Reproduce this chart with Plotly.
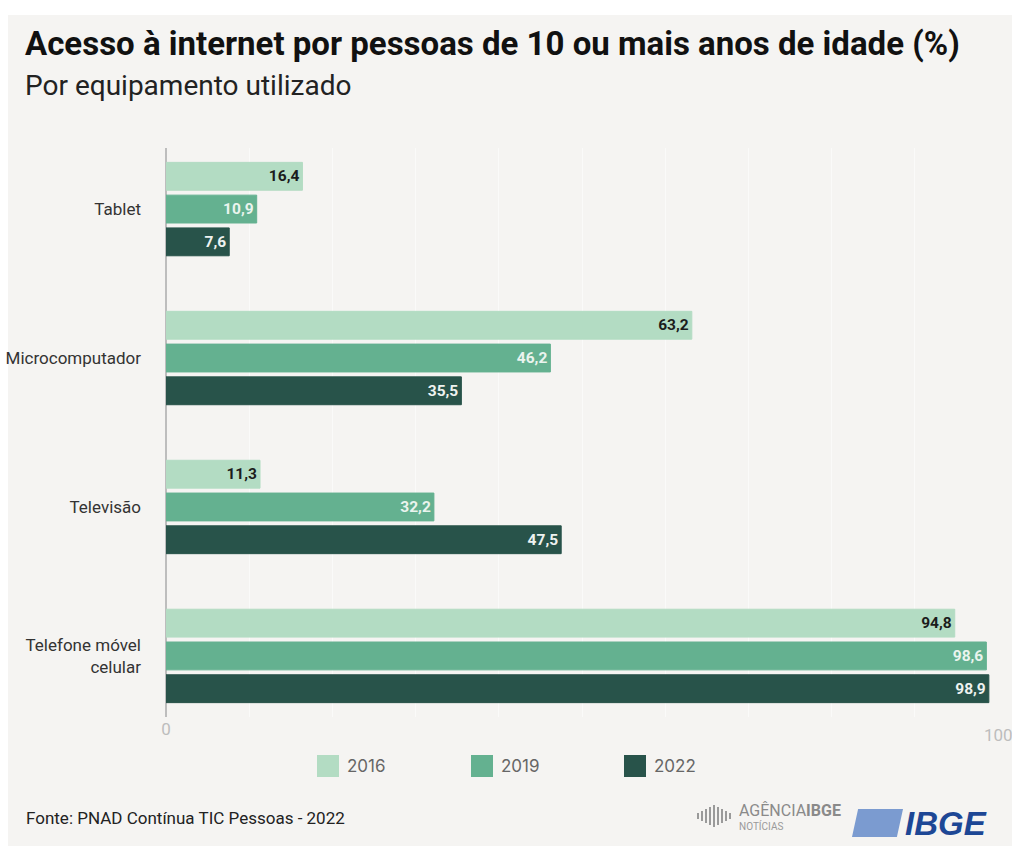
import plotly.graph_objects as go

categories = ["Tablet", "Microcomputador", "Televisão", "Telefone móvel<br>celular"]
years = ["2016", "2019", "2022"]
values_2016 = [16.4, 63.2, 11.3, 94.8]
values_2019 = [10.9, 46.2, 32.2, 98.6]
values_2022 = [7.6, 35.5, 47.5, 98.9]
series = [values_2016, values_2019, values_2022]
bar_colors = ["#b3dcc3", "#64b190", "#28534a"]
label_colors = ["#1c1c1c", "#eaf4ee", "#eef2f0"]
x_ticks = [0, 100]

W, H = 1012, 846
ML, MR, MT, MB = 166, 14, 148, 129
PW = W - ML - MR
PH = H - MT - MB


def px(x):
    return (x - ML) / PW


def py(y):
    return (H - MB - y) / PH


COND = "Roboto, Liberation Sans, sans-serif"
BG = "#f5f4f2"

fig = go.Figure()
for yr, vals, col, lc in zip(years, series, bar_colors, label_colors):
    fig.add_trace(go.Bar(
        y=categories, x=vals, name=yr, orientation="h",
        marker=dict(color=col, line=dict(color=col, width=1)),
        texttemplate="<b>%{x:.1f}</b>", textposition="inside",
        insidetextanchor="end", constraintext="none",
        textfont=dict(family=COND, size=15.5, color=lc),
        showlegend=False,
    ))

fig.update_layout(
    width=W, height=H,
    margin=dict(l=ML, r=MR, t=MT, b=MB, autoexpand=False),
    paper_bgcolor=BG, plot_bgcolor=BG,
    barmode="group", bargap=0.34, bargroupgap=0.15,
    separators=",.",
    xaxis=dict(
        range=[0, 100], tickvals=x_ticks[:1], showgrid=False, automargin=False,
        zeroline=True, zerolinecolor="#bdbdbd", zerolinewidth=2,
        tickfont=dict(family=COND, size=17, color="#bdbdbd"),
        minor=dict(dtick=10, showgrid=True, gridcolor="#fafaf9", gridwidth=1),
        fixedrange=True,
    ),
    yaxis=dict(
        range=[3.41, -0.41], showgrid=False, zeroline=False, automargin=False,
        tickfont=dict(family=COND, size=17, color="#333333"),
        ticklabelstandoff=24,
    ),
    font=dict(family=COND),
)

shapes = [
    dict(type="rect", xref="paper", yref="paper", x0=px(-5), x1=px(1020),
         y0=py(15), y1=py(-5), fillcolor="#ffffff", line=dict(width=0), layer="below"),
    dict(type="rect", xref="paper", yref="paper", x0=px(-5), x1=px(8),
         y0=py(850), y1=py(-5), fillcolor="#ffffff", line=dict(width=0), layer="below"),
]
annotations = [
    dict(text="<b>Acesso à internet por pessoas de 10 ou mais anos de idade (%)</b>",
         xref="paper", yref="paper", x=px(23), y=py(44), xanchor="left", yanchor="middle",
         showarrow=False, font=dict(family=COND, size=33, color="#111111")),
    dict(text="Por equipamento utilizado",
         xref="paper", yref="paper", x=px(23), y=py(85), xanchor="left", yanchor="middle",
         showarrow=False, font=dict(family=COND, size=28, color="#222222")),
    dict(text="Fonte: PNAD Contínua TIC Pessoas - 2022",
         xref="paper", yref="paper", x=px(24), y=py(818), xanchor="left", yanchor="middle",
         showarrow=False, font=dict(family=COND, size=17, color="#222222")),
    dict(text="AGÊNCIA<b>IBGE</b>",
         xref="paper", yref="paper", x=px(737), y=py(810), xanchor="left", yanchor="middle",
         showarrow=False, font=dict(family=COND, size=16, color="#8a8a8a")),
    dict(text="NOTÍCIAS",
         xref="paper", yref="paper", x=px(737), y=py(826), xanchor="left", yanchor="middle",
         showarrow=False, font=dict(family=COND, size=10, color="#9a9a9a")),
    dict(text="<b><i>IBGE</i></b>",
         xref="paper", yref="paper", x=px(903), y=py(823), xanchor="left", yanchor="middle",
         showarrow=False, font=dict(family="Liberation Sans, Arial, sans-serif", size=33, color="#1d4795")),
    # last x tick label (partly past the edge, as in the original)
    dict(text=str(x_ticks[-1]), xref="x", yref="paper", x=x_ticks[-1], y=py(735),
         xanchor="center", yanchor="middle", showarrow=False,
         font=dict(family=COND, size=17, color="#bdbdbd")),
]

# IBGE logo mark (parallelogram) and agency mark
x0, x1, y0, y1 = px(852), px(903), py(837), py(809)
sk = (x1 - x0) * 0.12
shapes.append(dict(type="path", xref="paper", yref="paper",
                   path=f"M {x0} {y0} L {x1 - sk} {y0} L {x1} {y1} L {x0 + sk} {y1} Z",
                   fillcolor="#7b9bd0", line=dict(width=0)))
for i in range(9):
    xb = 697 + i * 4
    hgt = [6, 10, 14, 18, 22, 18, 14, 10, 6][i]
    shapes.append(dict(type="rect", xref="paper", yref="paper",
                       x0=px(xb), x1=px(xb + 2), y0=py(816 + hgt / 2), y1=py(816 - hgt / 2),
                       fillcolor="#9a9a9a", line=dict(width=0)))

# Legend (manual, larger swatches)
legend_x = [317, 471, 624]
for yr, col, lx in zip(years, bar_colors, legend_x):
    shapes.append(dict(type="rect", xref="paper", yref="paper",
                       x0=px(lx), x1=px(lx + 22), y0=py(777), y1=py(755),
                       fillcolor=col, line=dict(width=0)))
    annotations.append(dict(text=yr, xref="paper", yref="paper", x=px(lx + 28), y=py(766),
                            xanchor="left", yanchor="middle", showarrow=False,
                            font=dict(family="Inter, Roboto, sans-serif", size=17, color="#666666")))

fig.update_layout(shapes=shapes, annotations=annotations)
fig.write_html("out.html")
